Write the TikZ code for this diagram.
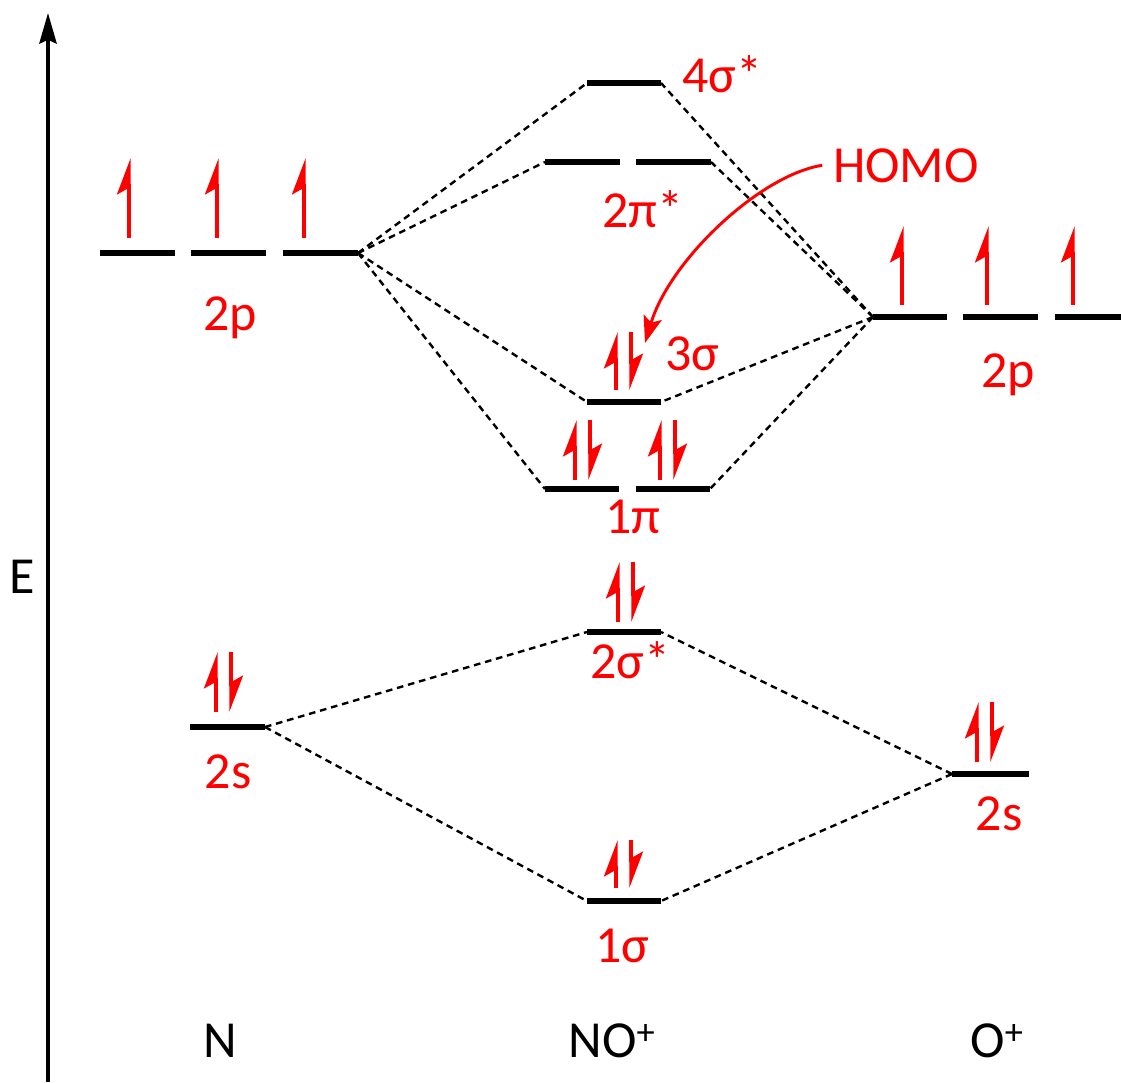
\documentclass[tikz,border=0pt]{standalone}
\usepackage{fontspec}
\setmainfont{Carlito}
\usetikzlibrary{arrows.meta}
\newcommand\spinpair[3]{%
  \draw[spin] (#1,#2) -- (#1,#3);
  \draw[spin] ({#1+15},#3) -- ({#1+15},#2);}
\begin{document}
\begin{tikzpicture}[x=0.75pt,y=-0.75pt,
  lvl/.style={line width=4.5pt},
  corr/.style={line width=1.8pt,dash pattern=on 5pt off 3.6pt},
  spin/.style={red,line width=2.5pt,-{Stealth[left,length=24pt,width=18pt,inset=5pt]}},
  lab/.style={red,anchor=base,font=\fontsize{39}{44}\selectfont,inner sep=0pt},
  blab/.style={black,anchor=base,font=\fontsize{39}{44}\selectfont,inner sep=0pt}]
\useasboundingbox (0,0) rectangle (1121,1082);
% energy axis
\coordinate (axB) at (48,1082);
\coordinate (axT) at (48,13);
\draw[line width=2.6pt,-{Stealth[length=23pt,width=13pt,inset=3pt]}] (axB) -- (axT);
\node[blab] (E) at (22,593) {E};
% ---- N 2p
\coordinate (Np1L) at (100,253); \coordinate (Np1R) at (175,253);
\coordinate (Np2L) at (191,253); \coordinate (Np2R) at (266,253);
\coordinate (Np3L) at (283,253); \coordinate (Np3R) at (358,253);
\draw[lvl] (Np1L) -- (Np1R); \draw[lvl] (Np2L) -- (Np2R); \draw[lvl] (Np3L) -- (Np3R);
\draw[spin] (129,238) -- (129,158);
\draw[spin] (217,238) -- (217,158);
\draw[spin] (304,238) -- (304,158);
\node[lab] (N2p) at (230,330) {2p};
% ---- N 2s
\coordinate (NsL) at (190,727); \coordinate (NsR) at (265,727);
\draw[lvl] (NsL) -- (NsR);
\spinpair{216}{712}{652}
\node[lab] (N2s) at (228,788) {2s};
% ---- O 2p
\coordinate (Op1L) at (873,317); \coordinate (Op1R) at (947,317);
\coordinate (Op2L) at (963,317); \coordinate (Op2R) at (1038,317);
\coordinate (Op3L) at (1055,317); \coordinate (Op3R) at (1121,317);
\draw[lvl] (Op1L) -- (Op1R); \draw[lvl] (Op2L) -- (Op2R); \draw[lvl] (Op3L) -- (Op3R);
\draw[spin] (902,305) -- (902,226);
\draw[spin] (987,305) -- (987,226);
\draw[spin] (1073,305) -- (1073,226);
\node[lab] (O2p) at (1008,387) {2p};
% ---- O 2s
\coordinate (OsL) at (952,774); \coordinate (OsR) at (1029,774);
\draw[lvl] (OsL) -- (OsR);
\spinpair{977}{762}{702}
\node[lab] (O2s) at (999,830) {2s};
% ---- NO+ levels
\coordinate (s4L) at (587,83); \coordinate (s4R) at (661,83);
\draw[lvl] (s4L) -- (s4R);
\node[lab] (l4s) at (722,92) {4σ*};
\coordinate (p2L) at (545,162); \coordinate (p2M1) at (620,162);
\coordinate (p2M2) at (636,162); \coordinate (p2R) at (711,162);
\draw[lvl] (p2L) -- (p2M1); \draw[lvl] (p2M2) -- (p2R);
\node[lab] (l2p) at (643,227) {2π*};
\coordinate (s3L) at (587,402); \coordinate (s3R) at (661,402);
\draw[lvl] (s3L) -- (s3R);
\spinpair{616}{390}{332}
\node[lab] (l3s) at (692,370) {3σ};
\coordinate (p1L) at (545,489); \coordinate (p1M1) at (619,489);
\coordinate (p1M2) at (636,489); \coordinate (p1R) at (710,489);
\draw[lvl] (p1L) -- (p1M1); \draw[lvl] (p1M2) -- (p1R);
\spinpair{575}{480}{420}
\spinpair{660}{480}{420}
\node[lab] (l1p) at (633,533) {1π};
\coordinate (s2L) at (587,632); \coordinate (s2R) at (661,632);
\draw[lvl] (s2L) -- (s2R);
\spinpair{618}{622}{562}
\node[lab] (l2s) at (630,678) {2σ*};
\coordinate (s1L) at (587,901); \coordinate (s1R) at (661,901);
\draw[lvl] (s1L) -- (s1R);
\spinpair{616}{888}{840}
\node[lab] (l1s) at (622,962) {1σ};
% ---- correlation lines
\draw[corr] (Np3R) -- (s4L);
\draw[corr] (Np3R) -- (p2L);
\draw[corr] (Np3R) -- (s3L);
\draw[corr] (Np3R) -- (p1L);
\draw[corr] (Op1L) -- (s4R);
\draw[corr] (Op1L) -- (p2R);
\draw[corr] (Op1L) -- (s3R);
\draw[corr] (Op1L) -- (p1R);
\draw[corr] (NsR) -- (s2L);
\draw[corr] (NsR) -- (s1L);
\draw[corr] (OsL) -- (s2R);
\draw[corr] (OsL) -- (s1R);
% ---- HOMO
\node[lab] (homo) at (906,182) {HOMO};
\coordinate (homoTip) at (645,343);
\draw[red,line width=2.2pt,-{Stealth[length=20pt,width=14pt,inset=4pt]}]
  ([xshift=-8pt]homo.west) .. controls (760,175) and (670,260) .. (homoTip);
% ---- bottom labels
\node[blab] (N) at (220,1057) {N};
\node[blab] (NO) at (612,1057) {NO\textsuperscript{+}};
\node[blab] (O) at (997,1057) {O\textsuperscript{+}};
\end{tikzpicture}
\end{document}
